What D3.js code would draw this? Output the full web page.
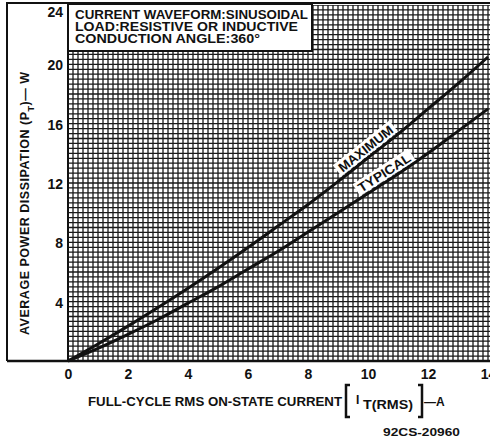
<!DOCTYPE html>
<html>
<head>
<meta charset="utf-8">
<script src="https://cdn.jsdelivr.net/npm/d3@7"></script>
<style>
  body { margin: 0; background: #fff; }
  text { font-family: "Liberation Sans", Arial, sans-serif; font-weight: bold; fill: #111; }
</style>
</head>
<body>
<div id="chart"></div>
<script>
// values
var current = [0, 1, 2, 3, 4, 5, 6, 7, 8, 9, 10, 11, 12, 13, 14];
var maximum = [0, 1.15, 2.35, 3.6, 4.9, 6.25, 7.65, 9.1, 10.55, 12.1, 13.7, 15.3, 17.0, 18.7, 20.5];
var typical = [0, 0.85, 1.8, 2.8, 3.9, 5.0, 6.2, 7.4, 8.7, 10.0, 11.3, 12.6, 14.0, 15.5, 17.0];
var xTicks = [0, 2, 4, 6, 8, 10, 12, 14];
var yTicks = [4, 8, 12, 16, 20, 24];
var noteLines = ["CURRENT WAVEFORM:SINUSOIDAL", "LOAD:RESISTIVE OR INDUCTIVE", "CONDUCTION ANGLE:360\u00b0"];

var width = 490, height = 443;
var plotL = 68, plotR = 488, plotT = 5, plotB = 361;

var svg = d3.select("#chart").append("svg")
  .attr("width", width)
  .attr("height", height);

var x = d3.scaleLinear().domain([0, 14]).range([plotL, plotR]);
var y = d3.scaleLinear().domain([0, 24]).range([plotB, plotT]);

svg.append("clipPath").attr("id", "plotClip")
  .append("rect")
  .attr("x", plotL).attr("y", plotT)
  .attr("width", width - plotL).attr("height", plotB - plotT);

// fine graph-paper grid
var grid = svg.append("g").attr("clip-path", "url(#plotClip)");
var gx = d3.range(0, 14.2, 1 / 6);
var gy = d3.range(0, 24.1, 1 / 3);
grid.selectAll(".vgrid").data(gx).enter().append("line")
  .attr("x1", d => x(d)).attr("x2", d => x(d))
  .attr("y1", plotT).attr("y2", plotB)
  .style("stroke", "#1a1a1a").style("stroke-width", 1.3);
grid.selectAll(".hgrid").data(gy).enter().append("line")
  .attr("x1", plotL).attr("x2", width)
  .attr("y1", d => y(d)).attr("y2", d => y(d))
  .style("stroke", "#1a1a1a").style("stroke-width", 1.3);

// outer frame
svg.append("path")
  .attr("d", "M7," + plotB + "V3H" + width)
  .style("fill", "none").style("stroke", "#111").style("stroke-width", 2);
svg.append("line")
  .attr("x1", 7).attr("x2", width).attr("y1", plotB).attr("y2", plotB)
  .style("stroke", "#111").style("stroke-width", 2.5);
svg.append("line")
  .attr("x1", plotL).attr("x2", plotL).attr("y1", 3).attr("y2", plotB)
  .style("stroke", "#111").style("stroke-width", 2);

// note box
svg.append("rect")
  .attr("x", plotL).attr("y", 4)
  .attr("width", 244).attr("height", 47)
  .style("fill", "#fff").style("stroke", "#111").style("stroke-width", 2);
var noteWidths = [233, 223, 185];
svg.selectAll(".note").data(noteLines).enter().append("text")
  .attr("x", 75)
  .attr("y", (d, i) => 19 + i * 11.8)
  .attr("textLength", (d, i) => noteWidths[i])
  .attr("lengthAdjust", "spacingAndGlyphs")
  .style("font-size", "12.5px")
  .text(d => d);

// curves
var line = d3.line()
  .x((d, i) => x(current[i]))
  .y(d => y(d))
  .curve(d3.curveMonotoneX);

[maximum, typical].forEach(function(s) {
  svg.append("path")
    .datum(s)
    .attr("d", line)
    .style("fill", "none")
    .style("stroke", "#111")
    .style("stroke-width", 3);
});

// curve labels on a white patch
function curveLabel(txt, series, at, off, w) {
  var i = Math.floor(at);
  var v = series[i] + (series[i + 1] - series[i]) * (at - i);
  var slope = (y(series[i + 1]) - y(series[i])) / (x(current[i + 1]) - x(current[i]));
  var ang = Math.atan(slope) * 180 / Math.PI;
  var g = svg.append("g")
    .attr("transform", "translate(" + x(at) + "," + y(v) + ") rotate(" + ang + ")");
  g.append("rect")
    .attr("x", -w / 2 - 3).attr("y", off - 12)
    .attr("width", w + 6).attr("height", 14)
    .style("fill", "#fff");
  g.append("text")
    .attr("x", 0).attr("y", off)
    .attr("text-anchor", "middle")
    .attr("textLength", w)
    .attr("lengthAdjust", "spacingAndGlyphs")
    .style("font-size", "13px")
    .text(txt);
}
curveLabel("MAXIMUM", maximum, 10.1, -4, 66);
curveLabel("TYPICAL", typical, 10.7, -4, 60);

// axes
var xAxis = svg.append("g")
  .attr("transform", "translate(0," + plotB + ")")
  .call(d3.axisBottom(x).tickValues(xTicks).tickSize(0).tickPadding(8).tickFormat(d3.format("d")));
xAxis.select(".domain").remove();
xAxis.selectAll("text")
  .style("font-size", "14px")
  .style("font-family", "'Liberation Sans', Arial, sans-serif")
  .style("font-weight", "bold")
  .style("fill", "#111");

var yAxis = svg.append("g")
  .attr("transform", "translate(" + plotL + ",0)")
  .call(d3.axisLeft(y).tickValues(yTicks).tickSize(0).tickPadding(5).tickFormat(d3.format("d")));
yAxis.select(".domain").remove();
yAxis.selectAll("text")
  .attr("y", d => (d === 24 ? 7 : 1))
  .style("font-size", "14px")
  .style("font-family", "'Liberation Sans', Arial, sans-serif")
  .style("font-weight", "bold")
  .style("fill", "#111");

// y axis title
var yt = svg.append("text")
  .attr("transform", "translate(29,335) rotate(-90)")
  .attr("x", 0).attr("y", 0)
  .attr("textLength", 263)
  .attr("lengthAdjust", "spacing")
  .style("font-size", "12.5px");
yt.append("tspan").text("AVERAGE  POWER  DISSIPATION  (P");
yt.append("tspan").attr("baseline-shift", "sub").style("font-size", "9px").text("T");
yt.append("tspan").text(")\u2014 W");

// x axis title
svg.append("text")
  .attr("x", 88).attr("y", 406)
  .attr("textLength", 254)
  .attr("lengthAdjust", "spacingAndGlyphs")
  .style("font-size", "12px")
  .text("FULL-CYCLE RMS ON-STATE CURRENT");
svg.append("path")
  .attr("d", "M350,385H346V417H350 M418,385H422V417H418")
  .style("fill", "none").style("stroke", "#111").style("stroke-width", 2.5);
svg.append("text").attr("x", 356).attr("y", 404).style("font-size", "12px").text("I");
svg.append("text").attr("x", 363).attr("y", 409)
  .attr("textLength", 50).attr("lengthAdjust", "spacingAndGlyphs")
  .style("font-size", "12px").text("T(RMS)");
svg.append("text").attr("x", 424).attr("y", 406).style("font-size", "12px").text("\u2014A");

svg.append("text").attr("x", 383).attr("y", 436)
  .attr("textLength", 77).attr("lengthAdjust", "spacingAndGlyphs")
  .style("font-size", "10.5px").text("92CS-20960");
</script>
</body>
</html>
